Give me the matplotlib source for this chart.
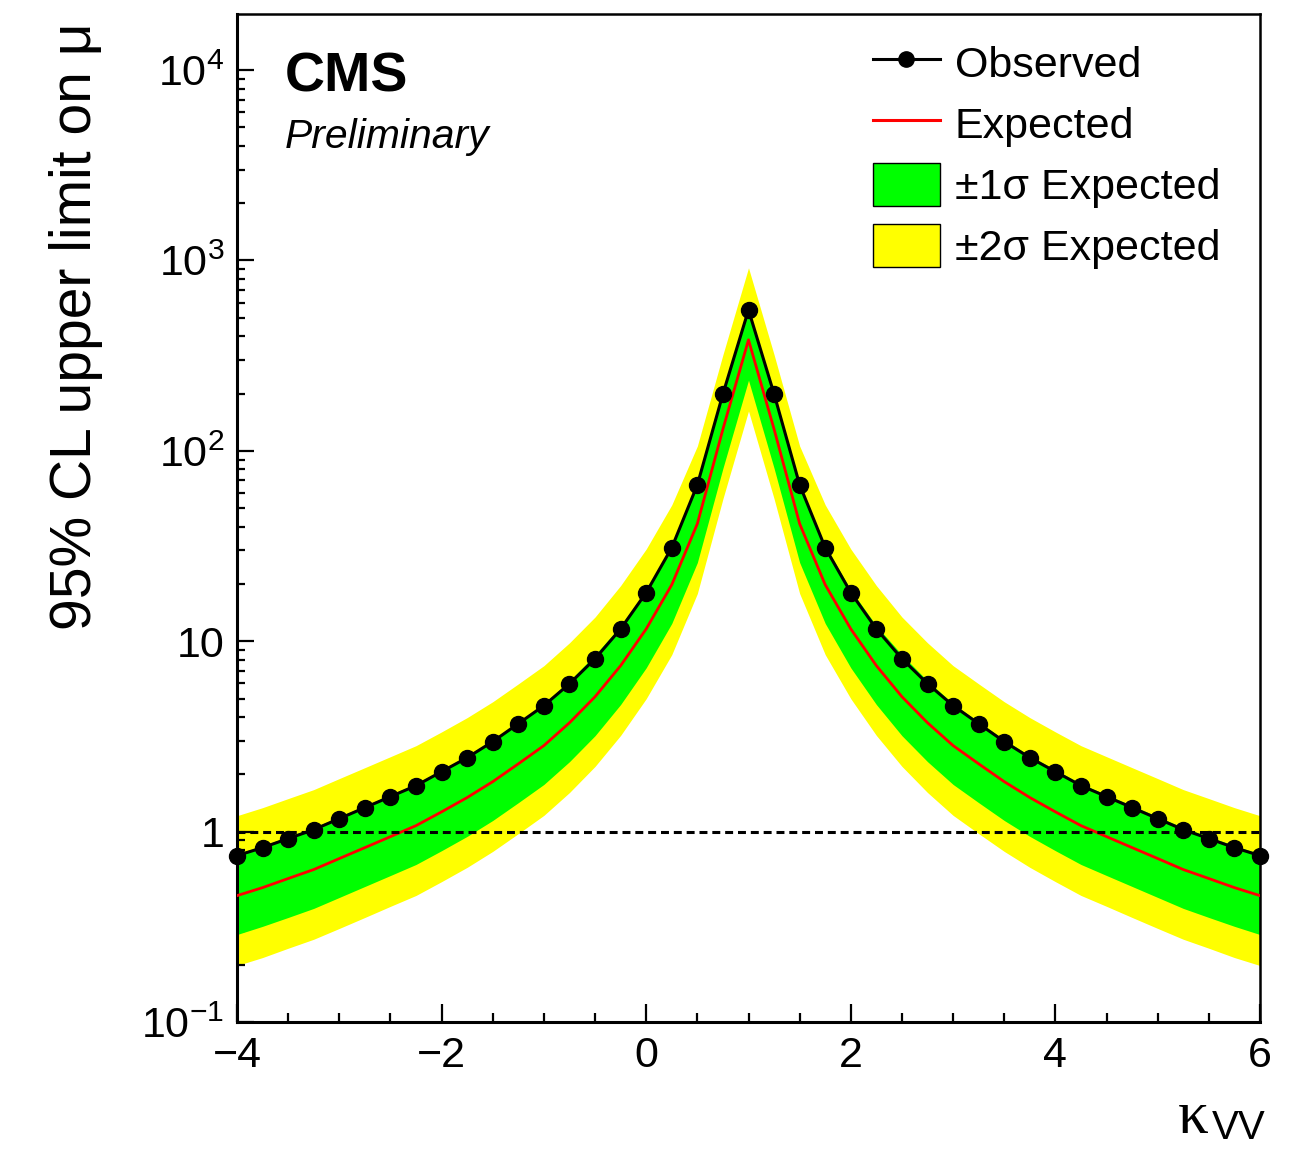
import numpy as np
import matplotlib
matplotlib.use('Agg')
import matplotlib.pyplot as plt
from matplotlib.lines import Line2D
from matplotlib.patches import Patch
from matplotlib.ticker import LogLocator, NullFormatter, MultipleLocator

plt.rcParams['font.family'] = ['Liberation Sans', 'DejaVu Sans']
plt.rcParams['mathtext.fontset'] = 'custom'
plt.rcParams['mathtext.rm'] = 'Liberation Sans'
plt.rcParams['mathtext.it'] = 'Liberation Sans:italic'

# kappa_VV scan points
kvv = [-4.0, -3.75, -3.5, -3.25, -3.0, -2.75, -2.5, -2.25, -2.0, -1.75, -1.5,
       -1.25, -1.0, -0.75, -0.5, -0.25, 0.0, 0.25, 0.5, 0.75, 1.0,
       1.25, 1.5, 1.75, 2.0, 2.25, 2.5, 2.75, 3.0, 3.25, 3.5,
       3.75, 4.0, 4.25, 4.5, 4.75, 5.0, 5.25, 5.5, 5.75, 6.0]

observed = [0.748, 0.824, 0.919, 1.024, 1.170, 1.337, 1.527, 1.744, 2.065, 2.445, 2.97,
            3.69, 4.59, 5.98, 8.09, 11.6, 18.0, 31.0, 66.3, 199, 550,
            199, 66.3, 31.0, 18.0, 11.6, 8.09, 5.98, 4.59, 3.69, 2.97,
            2.445, 2.065, 1.744, 1.527, 1.337, 1.170, 1.024, 0.919, 0.824, 0.748]

expected = [0.461, 0.508, 0.567, 0.632, 0.722, 0.824, 0.941, 1.075, 1.27, 1.51, 1.83,
            2.27, 2.83, 3.73, 5.11, 7.44, 11.6, 19.8, 41.4, 130, 383,
            130, 41.4, 19.8, 11.6, 7.44, 5.11, 3.73, 2.83, 2.27, 1.83,
            1.51, 1.27, 1.075, 0.941, 0.824, 0.722, 0.632, 0.567, 0.508, 0.461]

exp_p1 = [0.765, 0.843, 0.941, 1.049, 1.199, 1.368, 1.562, 1.785, 2.108, 2.507, 3.038,
          3.768, 4.698, 6.19, 8.48, 12.05, 18.6, 31.7, 66.2, 201, 559,
          201, 66.2, 31.7, 18.6, 12.05, 8.48, 6.19, 4.698, 3.768, 3.038,
          2.507, 2.108, 1.785, 1.562, 1.368, 1.199, 1.049, 0.941, 0.843, 0.765]

exp_m1 = [0.288, 0.318, 0.354, 0.395, 0.451, 0.515, 0.588, 0.672, 0.794, 0.944, 1.144,
          1.419, 1.769, 2.33, 3.19, 4.65, 7.25, 12.4, 25.9, 81, 235,
          81, 25.9, 12.4, 7.25, 4.65, 3.19, 2.33, 1.769, 1.419, 1.144,
          0.944, 0.794, 0.672, 0.588, 0.515, 0.451, 0.395, 0.354, 0.318, 0.288]

exp_p2 = [1.212, 1.336, 1.491, 1.662, 1.899, 2.167, 2.475, 2.827, 3.34, 3.97, 4.81,
          5.97, 7.44, 9.81, 13.4, 19.6, 30.5, 52, 106, 320, 915,
          320, 106, 52, 30.5, 19.6, 13.4, 9.81, 7.44, 5.97, 4.81,
          3.97, 3.34, 2.827, 2.475, 2.167, 1.899, 1.662, 1.491, 1.336, 1.212]

exp_m2 = [0.198, 0.218, 0.244, 0.272, 0.310, 0.354, 0.405, 0.462, 0.546, 0.649, 0.787,
          0.976, 1.217, 1.604, 2.20, 3.20, 4.99, 8.5, 17.8, 56, 162,
          56, 17.8, 8.5, 4.99, 3.20, 2.20, 1.604, 1.217, 0.976, 0.787,
          0.649, 0.546, 0.462, 0.405, 0.354, 0.310, 0.272, 0.244, 0.218, 0.198]

xticks = [-4, -2, 0, 2, 4, 6]
yticks = [0.1, 1, 10, 100, 1000, 10000]
ytick_labels = [r'10$^{-1}$', '1', '10', r'10$^{2}$', r'10$^{3}$', r'10$^{4}$']

W, H = 1305, 1149
fig = plt.figure(figsize=(W / 100, H / 100), dpi=100)
ax = fig.add_axes([237 / W, 1 - 1022 / H, (1260 - 237) / W, (1022 - 14) / H])

ax.fill_between(kvv, exp_m2, exp_p2, color='#ffff00', lw=0, zorder=1)
ax.fill_between(kvv, exp_m1, exp_p1, color='#00ff00', lw=0, zorder=2)
ax.plot(kvv, expected, color='#ff0000', lw=2.0, zorder=3)
ax.axhline(1.0, color='black', lw=2.2, dashes=(2.6, 1.6), zorder=4)
ax.plot(kvv, observed, color='black', lw=2.2, marker='o', ms=11.5, zorder=5, clip_on=False)

ax.set_yscale('log')
ax.set_xlim(-4, 6)
ax.set_ylim(0.1, 1.97e4)

ax.set_xticks(xticks)
ax.xaxis.set_minor_locator(MultipleLocator(0.5))
ax.set_yticks(yticks)
ax.set_yticklabels(ytick_labels)
ax.yaxis.set_minor_locator(LogLocator(base=10, subs=np.arange(2, 10)))
ax.yaxis.set_minor_formatter(NullFormatter())

ax.tick_params(axis='both', which='both', direction='in', width=1.6, labelsize=31)
ax.tick_params(axis='x', which='major', length=13, pad=10)
ax.tick_params(axis='x', which='minor', length=6.5)
ax.tick_params(axis='y', which='major', length=12, pad=9)
ax.tick_params(axis='y', which='minor', length=6)
for s in ax.spines.values():
    s.set_linewidth(2.2)
ax.spines['top'].set_linewidth(1.8)
ax.spines['right'].set_linewidth(1.8)

# axis titles
fig.text(76 / W, 1 - 630 / H, '95% CL upper limit on μ', rotation=90,
         ha='center', va='bottom', fontsize=41)
fig.text(1209 / W, 1 - 1133 / H, 'κ', family=['Liberation Serif', 'DejaVu Serif'],
         fontsize=44, ha='right', va='baseline')
fig.text(1212 / W, 1 - 1147 / H, 'VV', fontsize=29, ha='left', va='bottom')

# CMS label
ax.text(285 / W, 1 - 92 / H, 'CMS', transform=fig.transFigure, fontsize=40,
        fontweight='bold', ha='left', va='baseline')
ax.text(285 / W, 1 - 148 / H, 'Preliminary', transform=fig.transFigure, fontsize=29.4,
        fontstyle='italic', ha='left', va='baseline')

handles = [
    Line2D([], [], color='black', lw=2.2, marker='o', ms=11),
    Line2D([], [], color='#ff0000', lw=2.2),
    Patch(facecolor='#00ff00', edgecolor='black', lw=1),
    Patch(facecolor='#ffff00', edgecolor='black', lw=1),
]
labels = ['Observed', 'Expected', '±1σ Expected', '±2σ Expected']
fig.legend(handles, labels, loc='upper left', bbox_to_anchor=(873 / W, 1 - 41 / H),
           frameon=False, fontsize=31, handlelength=1.55, handleheight=1.15,
           handletextpad=0.35, labelspacing=0.375, borderpad=0, borderaxespad=0)

fig.savefig('out.png', dpi=100)
